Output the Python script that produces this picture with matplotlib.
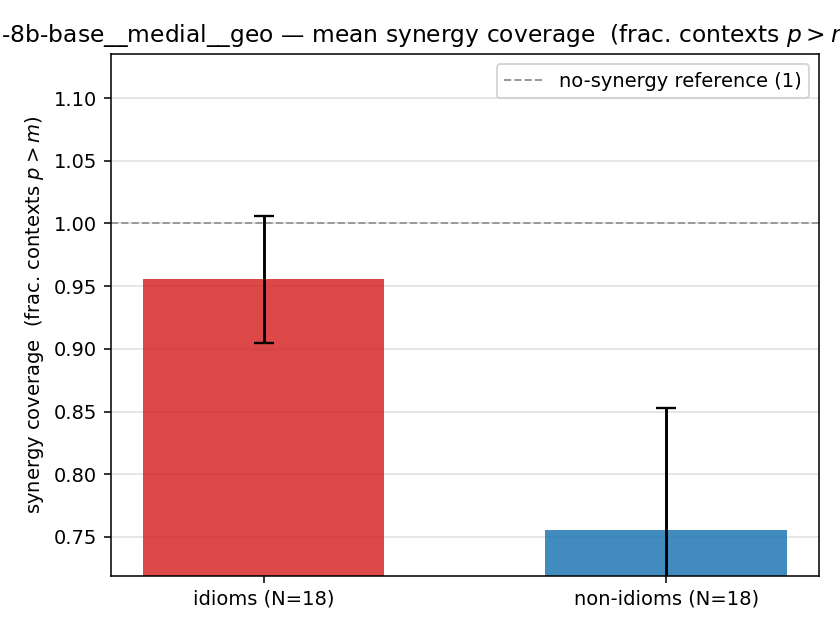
import numpy as np
import matplotlib
matplotlib.use('Agg')
import matplotlib.pyplot as plt

# data
groups = ["idioms", "non-idioms"]
counts = [18, 18]
means = [0.9555, 0.7555]
errs = [0.0508, 0.0977]
colors = ["#d62728", "#1f77b4"]
model = "llama3-8b-base__medial__geo"


def main():
    fig, ax = plt.subplots(figsize=(6.0, 4.5), dpi=140)

    x = np.arange(len(groups))
    ax.bar(x, means, width=0.6, color=colors, alpha=0.85, zorder=2)
    ax.errorbar(x, means, yerr=errs, fmt="none", ecolor="black",
                elinewidth=1.5, capsize=5, capthick=1.2, zorder=3)

    ax.axhline(1.0, color="#999999", ls="--", lw=1.0,
               label="no-synergy reference (1)", zorder=1)

    ax.set_xticks(x)
    ax.set_xticklabels([f"{g} (N={n})" for g, n in zip(groups, counts)])
    ax.set_ylim(0.719, 1.135)
    ax.set_ylabel("synergy coverage  (frac. contexts $p > m$)")
    ax.yaxis.grid(True, color="#e6e6e6", lw=1.0, zorder=0)
    ax.set_axisbelow(True)
    ax.legend(loc="upper right")

    fig.subplots_adjust(left=0.132, right=0.975, top=0.914, bottom=0.086)

    # title is wider than the figure; the model prefix runs off the left edge
    prefix = model.split("-8b")[0]
    title = f"{model} — mean synergy coverage  (frac. contexts $p > m$)"
    fig.canvas.draw()
    r = fig.canvas.get_renderer()
    tmp = fig.text(0, 0, prefix, fontsize=12)
    pw = tmp.get_window_extent(r).width / fig.bbox.width
    tmp.remove()
    fig.text(0.002 - pw, 0.933, title, fontsize=12, ha="left", va="baseline")

    fig.savefig("out.png", dpi=140)


if __name__ == "__main__":
    main()
